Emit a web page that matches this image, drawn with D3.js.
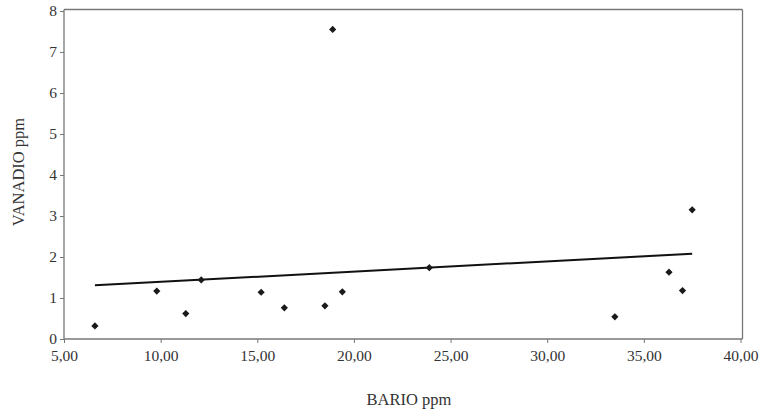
<!DOCTYPE html>
<html>
<head>
<meta charset="utf-8">
<script src="https://cdn.jsdelivr.net/npm/d3@7"></script>
<style>
  html, body { margin: 0; padding: 0; background: #fff; }
  svg { display: block; }
  text { font-family: "Liberation Serif", "Times New Roman", serif; fill: #333; }
</style>
</head>
<body>
<svg id="chart" width="767" height="417"></svg>
<script>
// Data
const bario   = [6.6, 9.8, 11.3, 12.1, 15.2, 16.4, 18.5, 18.9, 19.4, 23.9, 33.5, 36.3, 37.0, 37.5];
const vanadio = [0.32, 1.17, 0.62, 1.44, 1.14, 0.76, 0.81, 7.55, 1.15, 1.74, 0.54, 1.63, 1.18, 3.15];
const trendX  = [6.6, 37.5];
const trendY  = [1.31, 2.08];
const xTicks  = [5, 10, 15, 20, 25, 30, 35, 40];
const yTicks  = [0, 1, 2, 3, 4, 5, 6, 7, 8];
const xTitle  = "BARIO ppm";
const yTitle  = "VANADIO ppm";

const svg = d3.select("#chart");
const plotL = 64, plotR = 740.5, plotT = 11, plotB = 339, frameR = 742.5, frameT = 9.5;

const x = d3.scaleLinear().domain([5, 40]).range([plotL, plotR]);
const y = d3.scaleLinear().domain([0, 8]).range([plotB, plotT]);

const loc = d3.formatLocale({decimal: ",", thousands: ".", grouping: [3], currency: ["", ""]});
const fmt = loc.format(".2f");

// frame (top and right borders)
svg.append("line").attr("x1", plotL).attr("x2", frameR).attr("y1", frameT).attr("y2", frameT)
  .attr("stroke", "#777").attr("stroke-width", 1.3);
svg.append("line").attr("x1", frameR).attr("x2", frameR).attr("y1", frameT).attr("y2", plotB)
  .attr("stroke", "#777").attr("stroke-width", 1.3);

// x axis
const gx = svg.append("g").attr("transform", `translate(0,${plotB})`)
  .call(d3.axisBottom(x).tickValues(xTicks).tickFormat(fmt).tickSize(4).tickSizeOuter(0));
gx.attr("font-family", null).attr("font-size", null);
gx.select(".domain").attr("stroke", "#777").attr("stroke-width", 1.3)
  .attr("d", `M${plotL},0H${frameR}`);
gx.selectAll(".tick line").attr("stroke", "#777");
gx.selectAll(".tick text").attr("font-size", 15.5).attr("dy", "0.95em").attr("y", 7)
  .style("font-family", "'Liberation Serif', serif").attr("fill", "#333");

// y axis
const gy = svg.append("g").attr("transform", `translate(${plotL},0)`)
  .call(d3.axisLeft(y).tickValues(yTicks).tickFormat(d3.format("d")).tickSize(4).tickSizeOuter(0));
gy.attr("font-family", null).attr("font-size", null);
gy.select(".domain").attr("stroke", "#777").attr("stroke-width", 1.3)
  .attr("d", `M0,${frameT}V${plotB}`);
gy.selectAll(".tick line").attr("stroke", "#777");
gy.selectAll(".tick text").attr("font-size", 15.5).attr("x", -7)
  .style("font-family", "'Liberation Serif', serif").attr("fill", "#333");

// trend line
const line = d3.line().x(d => x(d[0])).y(d => y(d[1]));
svg.append("path").datum(d3.zip(trendX, trendY))
  .attr("d", line).attr("fill", "none").attr("stroke", "#111").attr("stroke-width", 2);

// points
const sym = d3.symbol().type(d3.symbolSquare).size(26);
svg.append("g").selectAll("path").data(d3.zip(bario, vanadio)).join("path")
  .attr("d", sym)
  .attr("transform", d => `translate(${x(d[0])},${y(d[1])}) rotate(45)`)
  .attr("fill", "#1a1a1a");

// titles
svg.append("text").attr("x", 409).attr("y", 405).attr("text-anchor", "middle")
  .attr("font-size", 16.5).text(xTitle);
svg.append("text").attr("transform", "translate(24,172) rotate(-90)")
  .attr("text-anchor", "middle").attr("font-size", 16.5).text(yTitle);
</script>
</body>
</html>
